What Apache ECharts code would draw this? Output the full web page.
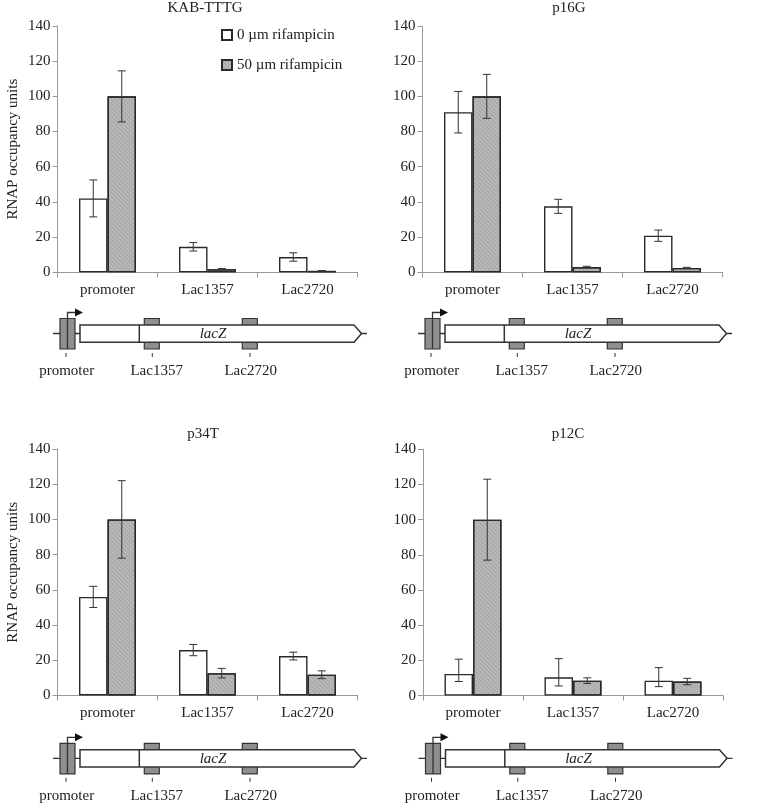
<!DOCTYPE html>
<html>
<head>
<meta charset="utf-8">
<script src="https://cdn.jsdelivr.net/npm/echarts@6/dist/echarts.min.js"></script>
<style>html,body{margin:0;padding:0;background:#fff}#c{width:774px;height:803px}</style>
</head>
<body>
<div id="c"></div>
<script>
// ---- data ----
var categories = ['promoter', 'Lac1357', 'Lac2720'];
var panelTitles = ['KAB-TTTG', 'p16G', 'p34T', 'p12C'];
var seriesNames = ['0 µm rifampicin', '50 µm rifampicin'];
var yTicks = [0, 20, 40, 60, 80, 100, 120, 140];
var yAxisName = 'RNAP occupancy units';
var geneLabels = ['promoter', 'Lac1357', 'Lac2720'];
var geneName = 'lacZ';

var kab0 = [42, 14.5, 8.7];     var kab0Err = [10.5, 2.4, 2.4];
var kab50 = [100, 1.8, 0.8];    var kab50Err = [14.5, 0.3, 0.2];
var p16g0 = [91, 37.5, 20.8];   var p16g0Err = [11.8, 4, 3.2];
var p16g50 = [100, 3, 2.5];     var p16g50Err = [12.5, 0.4, 0.3];
var p34t0 = [56, 25.8, 22.4];   var p34t0Err = [6, 3.2, 2.2];
var p34t50 = [100, 12.7, 11.8]; var p34t50Err = [22, 2.7, 2.2];
var p12c0 = [12.3, 10.4, 8.5];  var p12c0ErrUp = [8.4, 10.6, 7.4]; var p12c0ErrDown = [4.3, 4.9, 3.4];
var p12c50 = [100, 8.5, 8];     var p12c50Err = [23, 1.6, 1.8];

var panels = [
  {title: panelTitles[0], s: [{v: kab0, up: kab0Err, dn: kab0Err}, {v: kab50, up: kab50Err, dn: kab50Err}]},
  {title: panelTitles[1], s: [{v: p16g0, up: p16g0Err, dn: p16g0Err}, {v: p16g50, up: p16g50Err, dn: p16g50Err}]},
  {title: panelTitles[2], s: [{v: p34t0, up: p34t0Err, dn: p34t0Err}, {v: p34t50, up: p34t50Err, dn: p34t50Err}]},
  {title: panelTitles[3], s: [{v: p12c0, up: p12c0ErrUp, dn: p12c0ErrDown}, {v: p12c50, up: p12c50Err, dn: p12c50Err}]}
];

// ---- layout ----
var FONT = '"Liberation Serif", "DejaVu Serif", serif';
var FS = 15;
var TXT = '#222';
var AX = '#999';
var grids = [
  {left: 57.5, top: 26, width: 300, height: 246.3},
  {left: 422.5, top: 26, width: 300, height: 246.3},
  {left: 57.5, top: 449, width: 300, height: 246.5},
  {left: 423, top: 449.3, width: 300, height: 246.3}
];
var titleCenters = [205, 569, 203, 568];
var titleTops = [1, 1, 427, 427];
var diagramOrigins = [
  {x: 57.5, y: 333.5}, {x: 422.5, y: 333.5}, {x: 57.5, y: 758.3}, {x: 423, y: 758.3}
];
var BARW = 0.285; // fraction of category band
var fills = ['#ffffff', '#b9b9b9'];
var hatch = {symbol: 'rect', symbolSize: 1, dashArrayX: [1, 0], dashArrayY: [1, 1.6], rotation: Math.PI / 4, color: 'rgba(0,0,0,0.12)'};

var option = {
  animation: false,
  backgroundColor: '#fff',
  textStyle: {fontFamily: FONT},
  title: [], grid: [], xAxis: [], yAxis: [], series: [],
  legend: {
    data: seriesNames, orient: 'vertical', left: 221, top: 27, padding: 0,
    itemWidth: 10, itemHeight: 10, itemGap: 14,
    textStyle: {fontFamily: FONT, fontSize: FS, color: TXT, lineHeight: 16},
    icon: 'rect'
  },
  graphic: []
};

panels.forEach(function (p, gi) {
  var g = grids[gi];
  option.grid.push({left: g.left, top: g.top, width: g.width, height: g.height, containLabel: false});
  option.title.push({
    text: p.title, left: titleCenters[gi], top: titleTops[gi], textAlign: 'center', padding: 0,
    textStyle: {fontFamily: FONT, fontSize: FS, fontWeight: 'normal', color: TXT}
  });
  option.xAxis.push({
    type: 'category', gridIndex: gi, data: categories, boundaryGap: true,
    axisLine: {lineStyle: {color: AX, width: 1}},
    axisTick: {show: true, length: 5, interval: 0, lineStyle: {color: AX}},
    axisLabel: {fontFamily: FONT, fontSize: FS, color: TXT, margin: 10, interval: 0},
    splitLine: {show: false}
  });
  option.yAxis.push({
    type: 'value', gridIndex: gi, min: yTicks[0], max: yTicks[yTicks.length - 1], interval: 20,
    name: gi % 2 === 0 ? yAxisName : '', nameLocation: 'middle', nameGap: 37, nameRotate: 90,
    nameTextStyle: {fontFamily: FONT, fontSize: FS, color: TXT},
    axisLine: {show: true, lineStyle: {color: AX, width: 1}},
    axisTick: {show: true, length: 5, lineStyle: {color: AX}},
    axisLabel: {fontFamily: FONT, fontSize: FS, color: TXT, margin: 7},
    splitLine: {show: false}
  });
  p.s.forEach(function (s, si) {
    var st = {color: fills[si], borderColor: '#2a2a2a', borderWidth: 1.4};
    if (si === 1) st.decal = hatch;
    option.series.push({
      type: 'bar', name: seriesNames[si], xAxisIndex: gi, yAxisIndex: gi,
      data: s.v, barWidth: (BARW * 100) + '%', barGap: '0%',
      itemStyle: st,
      emphasis: {disabled: true}
    });
  });
  p.s.forEach(function (s, si) {
    var errData = s.v.map(function (v, i) { return [i, v - s.dn[i], v + s.up[i]]; });
    option.series.push({
      type: 'custom', xAxisIndex: gi, yAxisIndex: gi, z: 5, silent: true,
      data: errData,
      renderItem: function (params, api) {
        var ci = api.value(0);
        var band = api.size([1, 0])[0];
        var off = (si === 0 ? -1 : 1) * band * BARW / 2;
        var lo = api.coord([ci, api.value(1)]);
        var hi = api.coord([ci, api.value(2)]);
        var x = lo[0] + off;
        var cw = 4;
        var st = {stroke: '#333', lineWidth: 1};
        return {
          type: 'group', children: [
            {type: 'line', shape: {x1: x, y1: lo[1], x2: x, y2: hi[1]}, style: st},
            {type: 'line', shape: {x1: x - cw, y1: lo[1], x2: x + cw, y2: lo[1]}, style: st},
            {type: 'line', shape: {x1: x - cw, y1: hi[1], x2: x + cw, y2: hi[1]}, style: st}
          ]
        };
      }
    });
  });
});

// ---- gene diagrams (decorative schematic) ----
function diagram(o) {
  var L = '#333';
  var items = [];
  var ox = o.x, oy = o.y;
  items.push({type: 'line', shape: {x1: ox - 4.5, y1: oy, x2: ox + 309.5, y2: oy}, style: {stroke: L, lineWidth: 1.3}, z: 1});
  [[2.5, 17.5], [86.8, 101.8], [184.8, 199.8]].forEach(function (b) {
    items.push({type: 'rect', shape: {x: ox + b[0], y: oy - 15, width: b[1] - b[0], height: 30.5},
      style: {fill: '#8f8f8f', stroke: L, lineWidth: 1.2}, z: 2});
  });
  items.push({type: 'polyline', shape: {points: [[ox + 10, oy + 15.5], [ox + 10, oy - 21], [ox + 18, oy - 21]]},
    style: {stroke: L, lineWidth: 1.3, fill: null}, z: 3});
  items.push({type: 'polygon', shape: {points: [[ox + 17.5, oy - 25], [ox + 25.5, oy - 21], [ox + 17.5, oy - 17]]},
    style: {fill: '#111', stroke: null}, z: 3});
  items.push({type: 'polygon', shape: {points: [[ox + 22.5, oy - 8.5], [ox + 296.5, oy - 8.5], [ox + 304, oy], [ox + 296.5, oy + 8.7], [ox + 22.5, oy + 8.7]]},
    style: {fill: '#fff', stroke: L, lineWidth: 1.5}, z: 4});
  items.push({type: 'line', shape: {x1: ox + 81.8, y1: oy - 8.5, x2: ox + 81.8, y2: oy + 8.7}, style: {stroke: L, lineWidth: 1.5}, z: 5});
  items.push({type: 'text', x: ox + 155.5, y: oy + 0.5, z: 5,
    style: {text: geneName, fontFamily: FONT, fontStyle: 'italic', fontSize: FS, fill: TXT, align: 'center', verticalAlign: 'middle'}});
  var tx = [8.5, 94.8, 192.5], lx = [9.2, 99.2, 193.2];
  geneLabels.forEach(function (t, i) {
    items.push({type: 'line', shape: {x1: ox + tx[i], y1: oy + 19.5, x2: ox + tx[i], y2: oy + 23.5}, style: {stroke: L, lineWidth: 1}, z: 3});
    items.push({type: 'text', x: ox + lx[i], y: oy + 37.5, z: 5,
      style: {text: t, fontFamily: FONT, fontSize: FS, fill: TXT, align: 'center', verticalAlign: 'middle'}});
  });
  return items;
}
diagramOrigins.forEach(function (o) { option.graphic = option.graphic.concat(diagram(o)); });

var chart = echarts.init(document.getElementById('c'), null, {renderer: 'canvas'});
chart.setOption(option);
</script>
</body>
</html>
